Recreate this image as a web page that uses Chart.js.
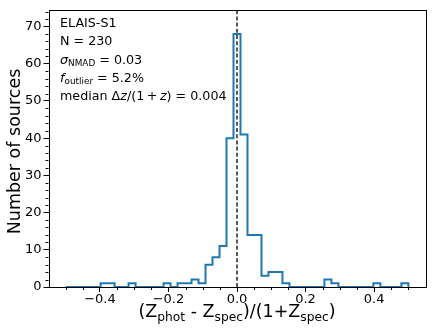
<!DOCTYPE html>
<html lang="en">
<head>
<meta charset="UTF-8" />
<title>ELAIS-S1 photo-z residuals</title>
<script src="https://cdn.jsdelivr.net/npm/chart.js@4.4.1/dist/chart.umd.min.js"></script>
<style>
  html, body { margin: 0; padding: 0; background: #fff; }
  #wrap { width: 432px; height: 335px; }
</style>
</head>
<body>
<div id="wrap"><canvas id="myChart" width="432" height="335"></canvas></div>
<script>
// histogram: 49 bins between -0.5 and 0.5
const binMin = -0.5;
const binMax = 0.5;
const counts = [0, 0, 0, 0, 0, 1, 1, 0, 0, 1,
                0, 0, 0, 0, 1, 0, 1, 1, 2, 1,
                6, 8, 11, 40, 68, 41, 14, 14, 3, 4,
                4, 1, 0, 0, 0, 0, 0, 2, 1, 0,
                0, 0, 0, 0, 1, 0, 0, 0, 1];
const xTicks = [-0.4, -0.2, 0.0, 0.2, 0.4];
const yTicks = [0, 10, 20, 30, 40, 50, 60, 70];
const medianLine = 0.0;

const statLines = [
    [{ t: "ELAIS-S1" }],
    [{ t: "N = 230" }],
    [{ t: "σ", i: 1 }, { t: "NMAD", sub: 1 }, { t: " = 0.03" }],
    [{ t: "f", i: 1 }, { t: "outlier", sub: 1 }, { t: " = 5.2%" }],
    [{ t: "median Δ" }, { t: "z", i: 1 }, { t: "/(1\u2009+\u2009" }, { t: "z", i: 1 }, { t: ") = 0.004" }],
];
const xTitle = [
    { t: "(Z" }, { t: "phot", sub: 1 }, { t: " - Z" }, { t: "spec", sub: 1 },
    { t: ")/(1+Z" }, { t: "spec", sub: 1 }, { t: ")" },
];
const yTitle = "Number of sources";

const FONT = "'DejaVu Sans', sans-serif";
const Y_MAX = 74.5;

// step outline points
const width = (binMax - binMin) / counts.length;
const stepPts = [{ x: binMin, y: 0 }];
counts.forEach((c, k) => stepPts.push({ x: binMin + k * width, y: c }));
stepPts.push({ x: binMax, y: 0 });

function runFont(r, size) {
    const s = r.sub ? size * 0.7 : size;
    return (r.i ? "italic " : "") + s + "px " + FONT;
}
function runsWidth(ctx, runs, size) {
    let w = 0;
    runs.forEach((r) => { ctx.font = runFont(r, size); w += ctx.measureText(r.t).width; });
    return w;
}
function drawRuns(ctx, runs, x, y, size) {
    runs.forEach((r) => {
        ctx.font = runFont(r, size);
        ctx.fillText(r.t, x, r.sub ? y + size * 0.22 : y);
        x += ctx.measureText(r.t).width;
    });
}

const extras = {
    id: "extras",
    afterDatasetsDraw(chart) {
        const ctx = chart.ctx;
        const a = chart.chartArea;
        const xs = chart.scales.x, ys = chart.scales.y;
        ctx.save();
        ctx.strokeStyle = "#000";
        ctx.lineWidth = 1;
        // minor ticks
        ctx.beginPath();
        for (let v = -0.5; v <= 0.501; v += 0.05) {
            const r = Math.round(v * 100) / 100;
            if (Math.abs(r * 10 - Math.round(r * 5) * 2) < 1e-6) continue;
            const px = Math.round(xs.getPixelForValue(r)) + 0.5;
            ctx.moveTo(px, a.bottom); ctx.lineTo(px, a.bottom + 3);
        }
        for (let v = 2; v < Y_MAX; v += 2) {
            if (v % 10 === 0) continue;
            const py = Math.round(ys.getPixelForValue(v)) + 0.5;
            ctx.moveTo(a.left, py); ctx.lineTo(a.left - 3, py);
        }
        ctx.stroke();
        // frame
        ctx.strokeRect(Math.round(a.left) + 0.5, Math.round(a.top) + 0.5,
            Math.round(a.right - a.left), Math.round(a.bottom - a.top));
        ctx.restore();
    },
    afterDraw(chart) {
        const ctx = chart.ctx;
        const a = chart.chartArea;
        ctx.save();
        ctx.fillStyle = "#000";
        ctx.textBaseline = "alphabetic";
        ctx.textAlign = "left";
        statLines.forEach((runs, i) => drawRuns(ctx, runs, 60, 27.3 + i * 18.1, 12.7));
        const tw = runsWidth(ctx, xTitle, 17.5);
        drawRuns(ctx, xTitle, (a.left + a.right) / 2 - tw / 2, 317, 17.5);
        ctx.translate(20, 151.5);
        ctx.rotate(-Math.PI / 2);
        ctx.textAlign = "center";
        ctx.font = "17.5px " + FONT;
        ctx.fillText(yTitle, 0, 0);
        ctx.restore();
    },
};

Chart.defaults.color = "#000";
Chart.defaults.font.family = FONT;

new Chart("myChart", {
    type: "line",
    data: {
        datasets: [
            {
                data: [{ x: medianLine, y: 0 }, { x: medianLine, y: Y_MAX }],
                borderColor: "#000",
                borderWidth: 1.3,
                borderDash: [4, 2.2],
                pointRadius: 0,
                fill: false,
                order: 0,
            },
            {
                data: stepPts,
                stepped: "before",
                borderColor: "#1f77b4",
                borderWidth: 2,
                pointRadius: 0,
                fill: false,
                order: 1,
            },
        ],
    },
    options: {
        responsive: false,
        animation: false,
        events: [],
        layout: { padding: { left: 0, right: 6.5, top: 5, bottom: 0 } },
        plugins: { legend: { display: false }, tooltip: { enabled: false } },
        scales: {
            x: {
                type: "linear",
                min: -0.55,
                max: 0.55,
                afterBuildTicks: (s) => { s.ticks = xTicks.map((v) => ({ value: v })); },
                afterFit: (s) => { s.height = 48; },
                ticks: {
                    font: { size: 13 },
                    padding: 0,
                    maxRotation: 0,
                    callback: (v) => (v < -1e-9 ? "\u2212" : "") + Math.abs(v).toFixed(1),
                },
                grid: { drawOnChartArea: false, drawTicks: true, tickLength: 5, color: "#000" },
                border: { display: false },
            },
            y: {
                min: 0,
                max: Y_MAX,
                afterBuildTicks: (s) => { s.ticks = yTicks.map((v) => ({ value: v })); },
                afterFit: (s) => { s.width = 48.5; },
                ticks: { font: { size: 13 }, padding: 2 },
                grid: { drawOnChartArea: false, drawTicks: true, tickLength: 5, color: "#000" },
                border: { display: false },
            },
        },
    },
    plugins: [extras],
});
</script>
</body>
</html>
